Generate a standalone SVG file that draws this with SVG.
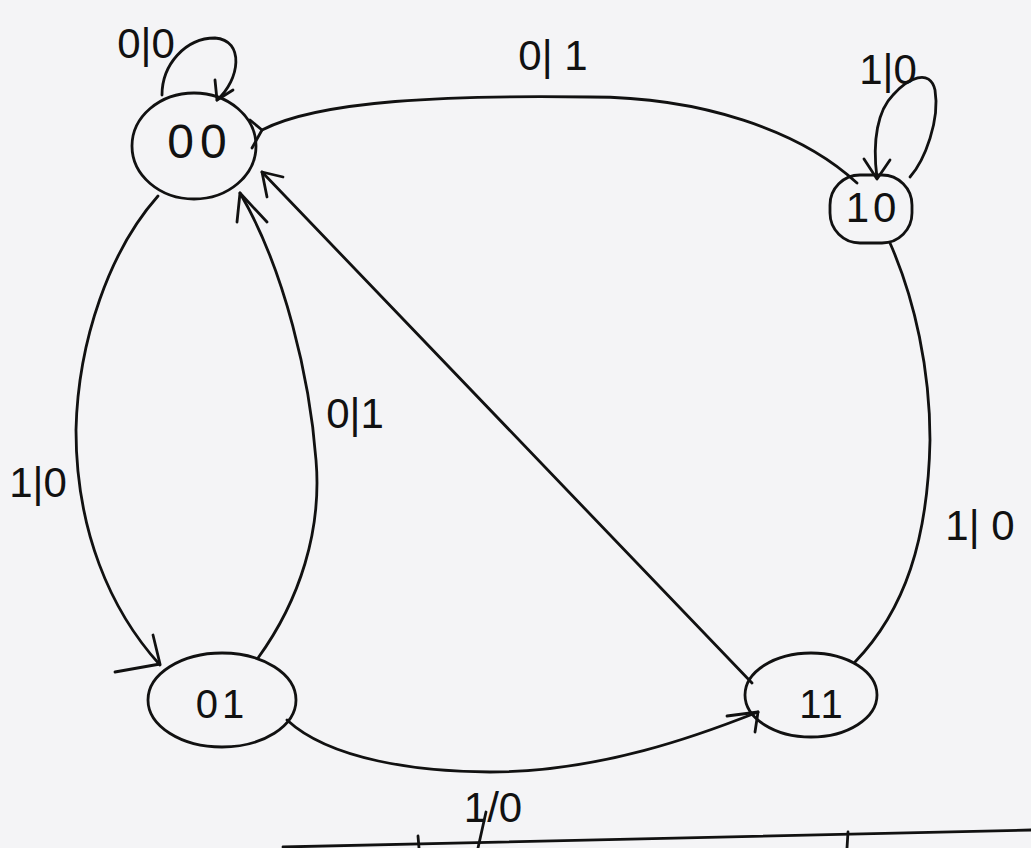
<svg xmlns="http://www.w3.org/2000/svg" width="1031" height="848" viewBox="0 0 1031 848">
<style>
.ink{fill:none;stroke:#111;stroke-width:2.8;stroke-linecap:round;stroke-linejoin:round}
.st{font-family:"Liberation Sans","DejaVu Sans",sans-serif;fill:#111;text-anchor:middle}
.lb{font-family:"Liberation Sans","DejaVu Sans",sans-serif;fill:#111;text-anchor:middle;font-size:42px}
</style>
<rect width="1031" height="848" fill="#f4f4f6"/>
<g id="connectors" class="ink">
  <!-- self loop 00 -->
  <path d="M162,95 C162,65 185,38 215,38 C245,40 240,80 217,100"/>
  <path d="M215,80 L217,100 L233,90"/>
  <!-- self loop 10 -->
  <path d="M877,178 C872,140 878,110 893,95 C908,78 930,68 935,90 C940,120 925,160 910,177"/>
  <path d="M864,159 L877,179 L890,160"/>
  <!-- 10 -> 00 top arc -->
  <path d="M857,183 C800,130 700,97 590,97 C450,95 320,100 262,130"/>
  <path d="M250,120 L262,130 L252,148"/>
  <!-- 11 -> 00 diagonal -->
  <path d="M752,683 L262,172"/>
  <path d="M283,177 L262,172 L267,197"/>
  <!-- 01 -> 00 -->
  <path d="M258,658 C300,600 322,530 316,460 C310,380 285,270 240,193"/>
  <path d="M237,222 L240,193 L267,222"/>
  <!-- 00 -> 01 -->
  <path d="M158,196 C110,250 78,340 76,430 C76,530 110,610 160,665"/>
  <path d="M153,635 L160,664 L115,672"/>
  <!-- 01 -> 11 -->
  <path d="M287,720 C330,760 420,772 490,772 C600,772 700,735 758,712"/>
  <path d="M727,716 L758,712 L755,732"/>
  <!-- 10 -> 11 -->
  <path d="M890,243 C915,300 930,370 930,440 C928,540 905,610 855,662"/>
  <!-- table line at bottom -->
  <path d="M283,847 L1031,830"/>
  <path d="M418,836 L419,848"/>
  <path d="M848,832 L847,848"/>
  <path d="M486,812 L478,848"/>
</g>
<g id="node-00">
  <ellipse class="ink" cx="194" cy="146" rx="62" ry="53"/>
  <text class="st" x="200" y="158" font-size="48" letter-spacing="6">00</text>
</g>
<g id="node-10">
  <rect class="ink" x="830" y="175" width="82" height="68" rx="30" ry="30"/>
  <text class="st" x="873" y="222" font-size="42" letter-spacing="4">10</text>
</g>
<g id="node-01">
  <ellipse class="ink" cx="222" cy="700" rx="74" ry="47"/>
  <text class="st" x="222" y="718" font-size="40" letter-spacing="4">01</text>
</g>
<g id="node-11">
  <ellipse class="ink" cx="811" cy="695" rx="66" ry="42"/>
  <text class="st" x="822" y="718" font-size="40" letter-spacing="2">11</text>
</g>
<g id="labels">
  <text class="lb" x="146" y="58">0|0</text>
  <text class="lb" x="553" y="70">0| 1</text>
  <text class="lb" x="888" y="84">1|0</text>
  <text class="lb" x="355" y="428">0|1</text>
  <text class="lb" x="38" y="497" font-size="44">1|0</text>
  <text class="lb" x="980" y="540">1| 0</text>
  <text class="lb" x="493" y="822" font-size="44">1/0</text>
</g>
</svg>
